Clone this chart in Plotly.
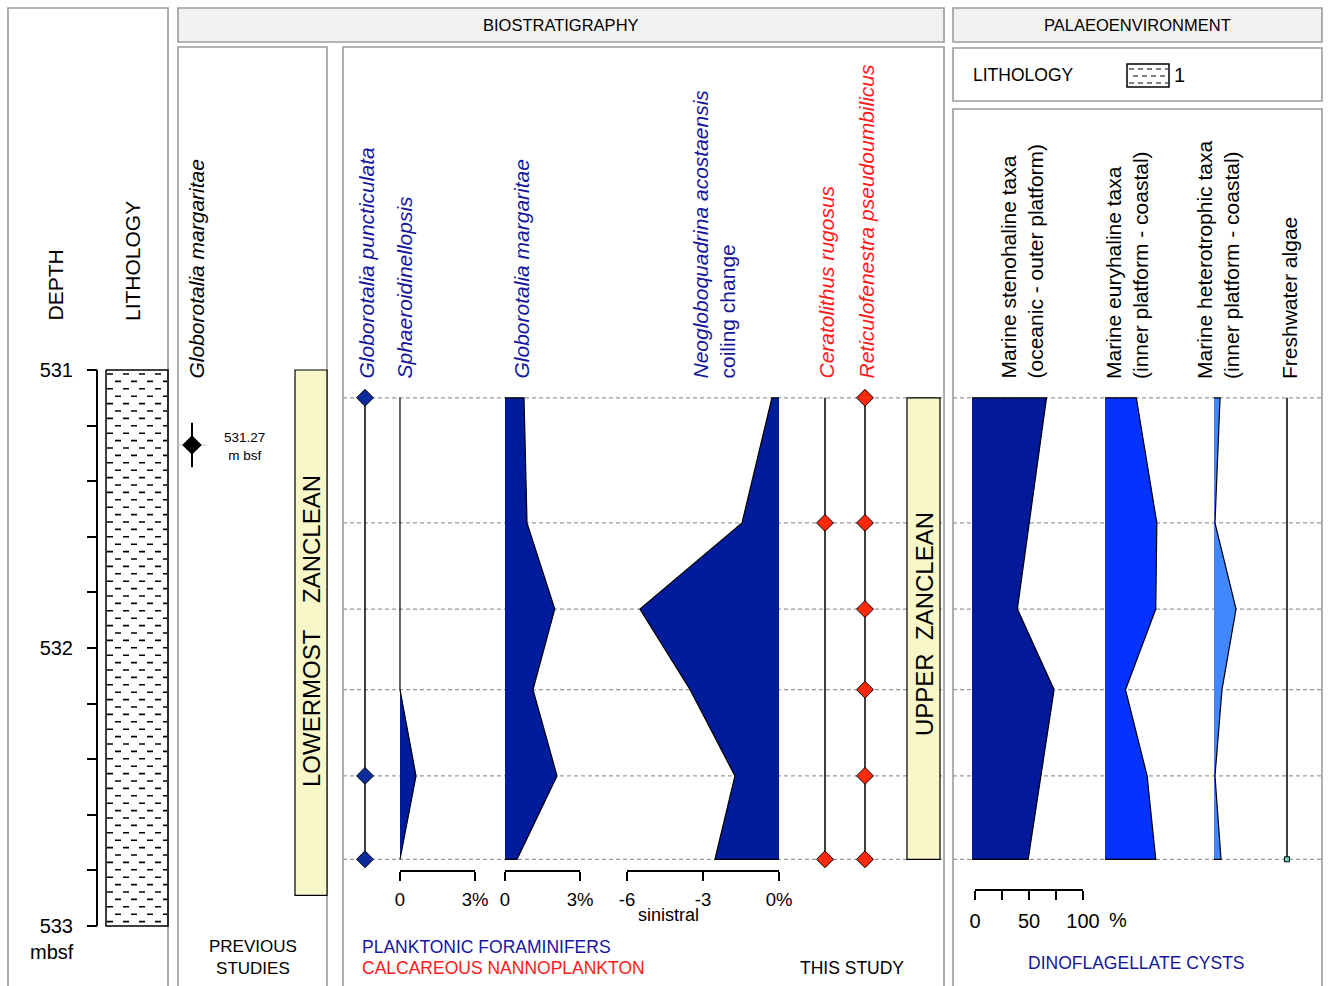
import plotly.graph_objects as go

W, H = 1328, 986
FONT = "Liberation Sans, Arial, sans-serif"

# ---------------- data ----------------
sample_depths = [531.10, 531.55, 531.86, 532.15, 532.46, 532.76]

depth_tick_values = [531.0, 531.2, 531.4, 531.6, 531.8, 532.0, 532.2, 532.4, 532.6, 532.8, 533.0]
depth_tick_labels = ["531", "", "", "", "", "532", "", "", "", "", "533"]

lithology_interval = [531.0, 533.0]
lowermost_zanclean = [531.0, 532.89]
upper_zanclean = [531.10, 532.76]

g_margaritae_prev_datum = 531.27
g_margaritae_prev_error = 0.08

g_puncticulata_occ = [531.10, 532.46, 532.76]
sphaeroidinellopsis_pct = [0, 0, 0, 0, 0.64, 0]
g_margaritae_pct = [0.76, 0.88, 1.99, 1.12, 2.08, 0.48]
n_acostaensis_sinistral = [-0.28, -1.46, -5.49, -3.51, -1.74, -2.53]
c_rugosus_occ = [531.55, 532.76]
r_pseudoumbilicus_occ = [531.10, 531.55, 531.86, 532.15, 532.46, 532.76]

stenohaline_pct = [69, 53, 42, 76, 64, 52]
euryhaline_pct = [29, 48, 47, 19, 39, 47]
heterotrophic_pct = [5.6, 0.9, 20.4, 7.4, 0.9, 6.5]
freshwater_occ = [532.76]

pct3_ticks = [0, 3]
pct3_labels = ["0", "3%"]
sinistral_ticks = [-6, -3, 0]
sinistral_labels = ["-6", "-3", "0%"]
dino_ticks = [0, 25, 50, 75, 100]
dino_labels = ["0", "", "50", "", "100"]

# ---------------- layout helpers ----------------
D0_PX, PX_PER_M = 370, 278.0   # 531 m at pixel row 370


def fx(px):
    return px / W


def fy(py):
    return 1 - py / H


y_range = [531 + (H - D0_PX) / PX_PER_M, 531 + (0 - D0_PX) / PX_PER_M]

layout = dict(
    width=W, height=H, autosize=False,
    margin=dict(l=0, r=0, t=0, b=0, pad=0, autoexpand=False),
    paper_bgcolor="white", plot_bgcolor="rgba(0,0,0,0)",
    showlegend=False,
    xaxis=dict(domain=[0, 1], range=[0, 1], visible=False, fixedrange=True, automargin=False),
    yaxis=dict(domain=[0, 1], range=y_range, anchor="free", position=fx(97), side="left",
               showgrid=False, zeroline=False, showline=False, automargin=False,
               tickvals=depth_tick_values, ticktext=depth_tick_labels,
               ticks="outside", ticklen=10, tickwidth=1.5, tickcolor="black",
               ticklabelstandoff=10,
               tickfont=dict(size=20, color="black", family=FONT), fixedrange=True),
)
traces = [go.Scatter(x=[None], y=[None], xaxis="x", yaxis="y", hoverinfo="skip")]
shapes = []
annotations = []
n_ax = [1]


def new_xaxis(**kw):
    n_ax[0] += 1
    i = n_ax[0]
    kw.setdefault("automargin", False)
    layout[f"xaxis{i}"] = kw
    return f"x{i}"


def data_axis(px0, px1, v0, v1, pad=4):
    ppu = (px1 - px0) / (v1 - v0)
    return new_xaxis(domain=[fx(px0 - pad), fx(px1 + pad)],
                     range=[v0 - pad / ppu, v1 + pad / ppu],
                     visible=False, anchor="y", fixedrange=True)


def scale_axis(px0, px1, v0, v1, py, tickvals, ticktext, size=18.5, standoff=3):
    ax = new_xaxis(domain=[fx(px0), fx(px1)], range=[v0, v1], anchor="free", position=fy(py),
                   showline=True, linecolor="black", linewidth=1.5,
                   ticks="outside", ticklen=9, tickwidth=1.5, tickcolor="black",
                   tickvals=tickvals, ticktext=ticktext, ticklabelstandoff=standoff,
                   tickfont=dict(size=size, color="black", family=FONT),
                   showgrid=False, zeroline=False, fixedrange=True)
    traces.append(go.Scatter(x=[None], y=[None], xaxis=ax, yaxis="y", hoverinfo="skip"))
    return ax


def text(t, xc, yc, size=17.5, color="black", xanchor="center", yanchor="middle", angle=0, align="center"):
    annotations.append(dict(text=t, x=fx(xc), y=fy(yc), xref="paper", yref="paper",
                            xanchor=xanchor, yanchor=yanchor, textangle=angle, align=align,
                            showarrow=False, font=dict(size=size, color=color, family=FONT)))


def rot_label(t, xc, ybottom, color="black", size=21):
    text(t, xc, ybottom, size=size, color=color, yanchor="bottom", angle=-90, align="left")


def panel(x0, y0, x1, y1, fill="rgba(0,0,0,0)"):
    shapes.append(dict(type="rect", xref="paper", yref="paper", x0=fx(x0), x1=fx(x1), y0=fy(y0), y1=fy(y1),
                       line=dict(color="#9c9c9c", width=1.6), fillcolor=fill, layer="below"))


# ---------------- panels ----------------
panel(8, 8, 168, 995)
panel(178, 8, 944, 42, fill="#f2f2f2")
panel(178, 47, 327, 995)
panel(343, 47, 944, 995)
panel(953, 8, 1322, 42, fill="#f2f2f2")
panel(953, 48, 1322, 101)
panel(953, 109, 1322, 995)
text("BIOSTRATIGRAPHY", 561, 25, size=16.5)
text("PALAEOENVIRONMENT", 1137, 25, size=16.5)

# sample level dashed lines
for d in sample_depths:
    for a, b in [(343, 944), (953, 1322)]:
        shapes.append(dict(type="line", xref="x", yref="y", x0=fx(a), x1=fx(b), y0=d, y1=d,
                           line=dict(color="#9a9a9a", width=1.3, dash="4px,3px"), layer="below"))

# ---------------- depth column ----------------
shapes.append(dict(type="line", xref="x", yref="y", x0=fx(97), x1=fx(97),
                   y0=lithology_interval[0], y1=lithology_interval[1],
                   line=dict(color="black", width=2)))
text("mbsf", 52, 952, size=20)
rot_label("DEPTH", 55, 323)
rot_label("LITHOLOGY", 132, 323)

# ---------------- lithology column ----------------
ax_lit = data_axis(106, 168, 0, 1, pad=3)
lt, lb = lithology_interval
traces.append(go.Scatter(x=[0, 1, 1, 0, 0], y=[lt, lt, lb, lb, lt], xaxis=ax_lit, yaxis="y",
                         mode="lines", line=dict(color="black", width=1.5), hoverinfo="skip"))
row_step = 7.4 / PX_PER_M
rows_a_x, rows_a_y, rows_b_x, rows_b_y = [], [], [], []
n_rows = int((lb - lt - 6 / PX_PER_M) / row_step) + 1
for i in range(n_rows):
    yy = lt + 4 / PX_PER_M + i * row_step
    if i % 2 == 0:
        rows_a_x += [1 / 62, 61 / 62, None]
        rows_a_y += [yy, yy, None]
    else:
        rows_b_x += [9 / 62, 61 / 62, None]
        rows_b_y += [yy, yy, None]
for xs, ys in [(rows_a_x, rows_a_y), (rows_b_x, rows_b_y)]:
    traces.append(go.Scatter(x=xs, y=ys, xaxis=ax_lit, yaxis="y", mode="lines",
                             line=dict(color="black", width=1.6, dash="6px,10px"), hoverinfo="skip"))

# ---------------- previous studies ----------------
ax_prev = data_axis(172, 212, -1, 1, pad=0)
traces.append(go.Scatter(x=[0], y=[g_margaritae_prev_datum], xaxis=ax_prev, yaxis="y", mode="markers",
                         marker=dict(symbol="diamond", size=15, color="black"),
                         error_y=dict(type="data", array=[g_margaritae_prev_error], color="black",
                                      thickness=2, width=0),
                         error_x=dict(type="data", array=[0.75], color="#c8c8c8", thickness=1, width=0),
                         cliponaxis=False, hoverinfo="skip"))
text("531.27<br>m bsf", 244, 447, size=13.5)
rot_label("<i>Globorotalia margaritae</i>", 196, 381)
shapes.append(dict(type="rect", xref="x", yref="y", x0=fx(295), x1=fx(327),
                   y0=lowermost_zanclean[0], y1=lowermost_zanclean[1],
                   fillcolor="#f7f7c9", line=dict(color="black", width=1.2), layer="below"))
text("LOWERMOST\u00a0\u00a0\u00a0\u00a0ZANCLEAN", 311, 631, size=24, angle=-90)
text("PREVIOUS<br>STUDIES", 253, 957, size=17)

# ---------------- this study ----------------
BLUE_T = "#15169c"
RED_T = "#ff1a1a"
POLY_BLUE = "#001c9c"


def occurrence_column(xc, occ, color, square=False):
    ax = data_axis(xc - 12, xc + 12, -1, 1, pad=0)
    traces.append(go.Scatter(x=[0, 0], y=[sample_depths[0], sample_depths[-1]], xaxis=ax, yaxis="y",
                             mode="lines", line=dict(color="black", width=1.5), hoverinfo="skip"))
    if square:
        mk = dict(symbol="square", size=5, color="#63d8c8", line=dict(color="black", width=1))
    else:
        mk = dict(symbol="diamond", size=13, color=color, line=dict(color="black", width=1))
    traces.append(go.Scatter(x=[0] * len(occ), y=occ, xaxis=ax, yaxis="y", mode="markers",
                             marker=mk, cliponaxis=False, hoverinfo="skip"))


def curve_column(px0, px1, v0, v1, vals, fill, base=0):
    ax = data_axis(px0, px1, v0, v1, pad=4)
    traces.append(go.Scatter(x=[base] + list(vals) + [base],
                             y=[sample_depths[0]] + sample_depths + [sample_depths[-1]],
                             xaxis=ax, yaxis="y", mode="lines", fill="toself", fillcolor=fill,
                             line=dict(color="black", width=1.2), hoverinfo="skip"))


occurrence_column(365, g_puncticulata_occ, "#0b2a9c")
curve_column(400, 475, 0, 3, sphaeroidinellopsis_pct, POLY_BLUE)
curve_column(505, 580, 0, 3, g_margaritae_pct, POLY_BLUE)
curve_column(627, 779, -6, 0, n_acostaensis_sinistral, POLY_BLUE)
occurrence_column(825, c_rugosus_occ, "#ff2a0a")
occurrence_column(865, r_pseudoumbilicus_occ, "#ff2a0a")

scale_axis(400, 475, 0, 3, 871, pct3_ticks, pct3_labels)
scale_axis(505, 580, 0, 3, 871, pct3_ticks, pct3_labels)
scale_axis(627, 779, -6, 0, 871, sinistral_ticks, sinistral_labels)
text("sinistral", 668, 915, size=18)

shapes.append(dict(type="rect", xref="x", yref="y", x0=fx(907), x1=fx(940),
                   y0=upper_zanclean[0], y1=upper_zanclean[1],
                   fillcolor="#f7f7c9", line=dict(color="black", width=1.2), layer="below"))
text("UPPER\u00a0\u00a0ZANCLEAN", 924, 624, size=24, angle=-90)

rot_label("<i>Globorotalia puncticulata</i>", 366, 381, color=BLUE_T)
rot_label("<i>Sphaeroidinellopsis</i>", 404, 381, color=BLUE_T)
rot_label("<i>Globorotalia margaritae</i>", 521, 381, color=BLUE_T)
rot_label("<i>Neogloboquadrina acostaensis</i><br>coiling change", 713, 381, color=BLUE_T)
rot_label("<i>Ceratolithus rugosus</i>", 826, 381, color=RED_T)
rot_label("<i>Reticulofenestra pseudoumbilicus</i>", 866, 381, color=RED_T)

text("PLANKTONIC FORAMINIFERS", 360, 947, size=17.5, color=BLUE_T, xanchor="left")
text("CALCAREOUS NANNOPLANKTON", 360, 968, size=17.5, color=RED_T, xanchor="left")
text("THIS STUDY", 852, 968, size=17.5)

# ---------------- palaeoenvironment ----------------
text("LITHOLOGY", 1023, 75, size=17.5)
shapes.append(dict(type="rect", xref="paper", yref="paper", x0=fx(1127), x1=fx(1169), y0=fy(64), y1=fy(87),
                   line=dict(color="black", width=1.5)))
for i, ry in enumerate([69, 76, 83]):
    sx = 1129 if i % 2 == 0 else 1133
    shapes.append(dict(type="line", xref="paper", yref="paper", x0=fx(sx), x1=fx(1168), y0=fy(ry), y1=fy(ry),
                       line=dict(color="black", width=1.2, dash="5px,4px")))
text("1", 1179, 75, size=20)

curve_column(972, 1080, 0, 100, stenohaline_pct, "#021a99")
curve_column(1105, 1213, 0, 100, euryhaline_pct, "#0433ff")
curve_column(1214, 1322, 0, 100, heterotrophic_pct, "#4187ff")
occurrence_column(1287, freshwater_occ, None, square=True)

scale_axis(975, 1083, 0, 100, 890, dino_ticks, dino_labels, size=20, standoff=4)
text("%", 1118, 920, size=20)

rot_label("Marine stenohaline taxa<br>(oceanic - outer platform)", 1021, 381)
rot_label("Marine euryhaline taxa<br>(inner platform - coastal)", 1127, 381)
rot_label("Marine heterotrophic taxa<br>(inner platform - coastal)", 1218, 381)
rot_label("Freshwater algae", 1289, 381)
text("DINOFLAGELLATE CYSTS", 1136, 963, size=17.5, color=BLUE_T)

layout["shapes"] = shapes
layout["annotations"] = annotations
fig = go.Figure(data=traces, layout=layout)
fig.write_html("out.html", config={"displayModeBar": False},
               post_script="document.body.style.margin='0px';")
